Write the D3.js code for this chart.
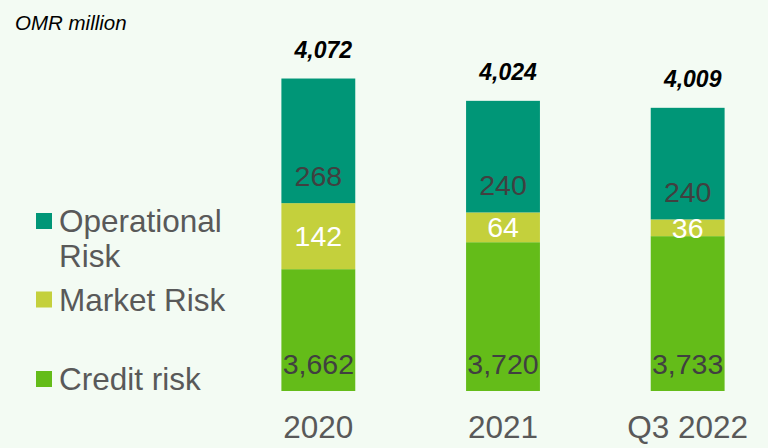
<!DOCTYPE html>
<html><head><meta charset="utf-8">
<script src="https://cdn.jsdelivr.net/npm/d3@7"></script>
<style>
html,body{margin:0;padding:0;background:#f3fbf3;}
svg{display:block;font-family:"Liberation Sans",Arial,sans-serif;}
</style></head>
<body>
<svg id="c" width="768" height="448"></svg>
<script>
const categories = ["2020", "2021", "Q3 2022"];
const creditRisk = [3662, 3720, 3733];
const marketRisk = [142, 64, 36];
const operationalRisk = [268, 240, 240];
const totals = [4072, 4024, 4009];
const seriesNames = ["Credit risk", "Market Risk", "Operational Risk"];
const unitLabel = "OMR million";

const colors = {"Credit risk":"#64bc19","Market Risk":"#c4d03c","Operational Risk":"#009677"};

const svg = d3.select("#c");
svg.append("rect").attr("width",768).attr("height",448).attr("fill","#f3fbf3");

const x = d3.scaleBand().domain(categories).range([226, 780]).paddingInner(0.6).paddingOuter(0.3);
const y = d3.scaleLinear().domain([3400, 4100]).range([391, 391 - 700*0.465]);

const rows = categories.map((c,i)=>({cat:c,"Credit risk":creditRisk[i],"Market Risk":marketRisk[i],"Operational Risk":operationalRisk[i]}));
const stack = d3.stack().keys(seriesNames)(rows);

const layers = svg.append("g").selectAll("g").data(stack).join("g").attr("fill",d=>colors[d.key]);
layers.selectAll("rect").data(d=>d).join("rect")
  .attr("x",d=>x(d.data.cat)).attr("width",x.bandwidth())
  .attr("y",d=>y(Math.max(d[1], y.domain()[0]))).attr("height",d=>y(Math.max(d[0],y.domain()[0]))-y(d[1]));

// segment labels
stack.forEach(layer=>{
  const g = svg.append("g").attr("font-size",28.5).attr("text-anchor","middle");
  layer.forEach(d=>{
    const lo = y(Math.max(d[0], y.domain()[0])), hi = y(d[1]);
    let ty, fill;
    if(layer.key==="Market Risk"){ ty = (lo+hi)/2 + 10; fill="#ffffff"; }
    else { ty = lo - 17.5; fill="#404040"; }
    g.append("text").attr("x",x(d.data.cat)+x.bandwidth()/2).attr("y",ty).attr("fill",fill)
      .text(d3.format(",")(d[1]-d[0]));
  });
});

// totals
svg.append("g").selectAll("text").data(totals).join("text")
  .attr("x",(d,i)=>x(categories[i])+x.bandwidth()/2+5)
  .attr("y",d=>y(d)-21)
  .attr("text-anchor","middle").attr("font-size",23).attr("font-weight","bold").attr("font-style","italic")
  .attr("fill","#000").text(d=>d3.format(",")(d));

// x axis
const xa = svg.append("g").attr("transform","translate(0,391)")
  .call(d3.axisBottom(x).tickSize(0).tickPadding(0));
xa.select(".domain").remove();
xa.selectAll("text").attr("font-size",31.5).attr("fill","#595959").attr("dy",0).attr("y",47)
  .attr("font-family","Liberation Sans, Arial, sans-serif");

// unit label
svg.append("text").attr("x",15).attr("y",30).attr("font-size",20.5).attr("font-style","italic")
  .attr("fill","#000").text(unitLabel);

// legend
const legendItems = [
  {key:"Operational Risk", lines:["Operational","Risk"], y:232},
  {key:"Market Risk", lines:["Market Risk"], y:310.5},
  {key:"Credit risk", lines:["Credit risk"], y:390}
];
const lg = svg.append("g");
legendItems.forEach(it=>{
  lg.append("rect").attr("x",36).attr("y",it.y-19).attr("width",16).attr("height",16).attr("fill",colors[it.key]);
  const t = lg.append("text").attr("x",59).attr("y",it.y).attr("font-size",31.5).attr("fill","#595959");
  it.lines.forEach((l,j)=>t.append("tspan").attr("x",59).attr("dy",j?35:0).text(l));
});
</script>
</body></html>
